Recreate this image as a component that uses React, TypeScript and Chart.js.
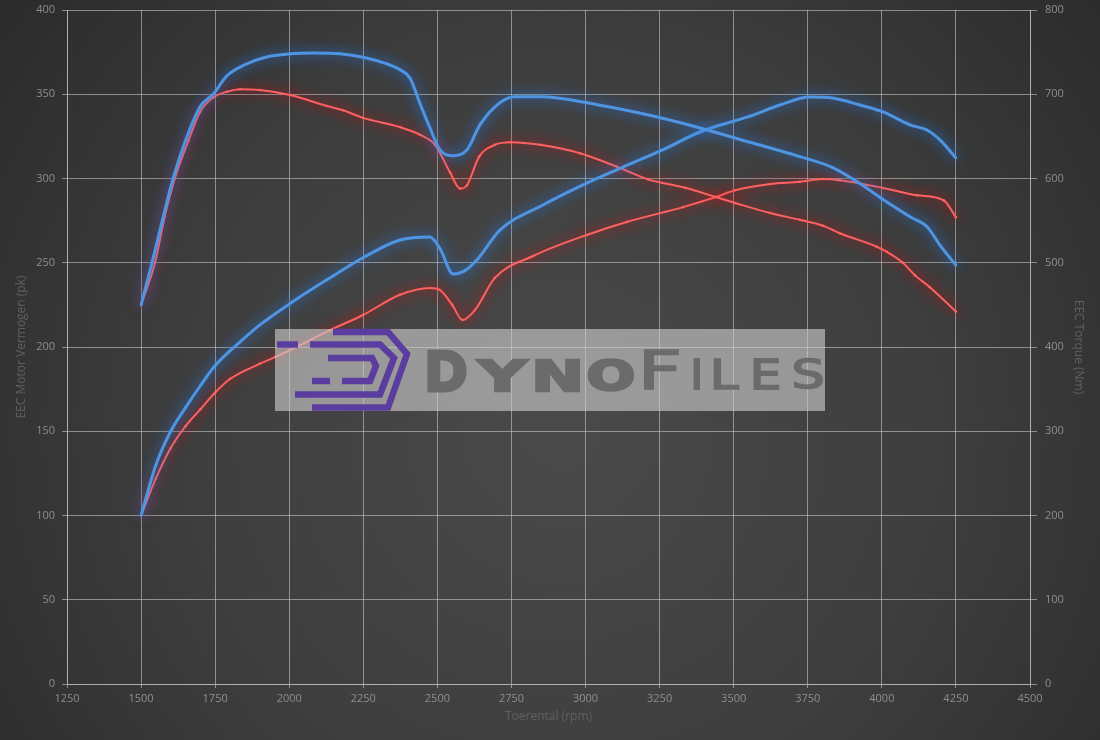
import React, { useEffect, useRef } from "react";
import { Chart, registerables } from "chart.js";

Chart.register(...registerables);

// ---- data ----
const tunedTorqueRpm = [1500, 1537, 1575, 1608, 1650, 1699, 1743, 1790, 1850, 1920, 2003, 2080, 2171, 2249, 2330, 2374, 2408, 2440, 2475, 2509, 2553, 2600, 2644, 2711, 2762, 2846, 3049, 3217, 3386, 3555, 3723, 3834, 3926, 4004, 4098, 4152, 4196, 4250];
const tunedTorqueNm = [450, 500, 555, 600, 645, 685, 700, 722, 735, 744, 748, 749, 748, 744, 736, 729, 719, 690, 660, 634, 627, 634, 664, 690, 697, 697, 687, 675, 660, 643, 626, 613, 594, 575, 554, 543, 521, 497];

const stockTorqueRpm = [1500, 1547, 1580, 1614, 1660, 1699, 1743, 1790, 1834, 1901, 2003, 2128, 2182, 2249, 2374, 2441, 2492, 2543, 2577, 2600, 2641, 2694, 2748, 2846, 2981, 3106, 3211, 3336, 3440, 3505, 3623, 3723, 3801, 3858, 3983, 4017, 4071, 4112, 4162, 4250];
const stockTorqueNm = [450, 500, 555, 600, 645, 679, 696, 703, 706, 705, 699, 686, 681, 672, 661, 652, 640, 607, 588, 592, 626, 640, 643, 640, 630, 614, 599, 589, 578, 571, 559, 551, 544, 535, 519, 513, 500, 485, 471, 442];

const tunedPowerRpm = [1500, 1550, 1600, 1650, 1700, 1750, 1834, 1900, 2013, 2128, 2249, 2374, 2475, 2510, 2553, 2590, 2633, 2711, 2856, 3004, 3159, 3260, 3386, 3555, 3656, 3757, 3834, 3926, 4004, 4095, 4152, 4196, 4250];
const tunedPowerPk = [100, 130, 150, 164, 177, 189, 203, 213, 227, 240, 253, 263.5, 265.3, 258, 243.3, 245, 251.6, 269.4, 284.3, 297.3, 309.2, 317, 327.6, 337, 343.6, 348.4, 347.8, 343.6, 339.5, 331.8, 328.8, 322.9, 312.2];

const stockPowerRpm = [1500, 1550, 1600, 1650, 1700, 1750, 1800, 1900, 1952, 2036, 2138, 2249, 2374, 2475, 2509, 2550, 2585, 2627, 2694, 2823, 3004, 3139, 3329, 3440, 3505, 3623, 3723, 3801, 3858, 4004, 4119, 4209, 4250];
const stockPowerPk = [100, 122, 140, 153, 163, 173, 181, 190, 194, 201, 210, 219, 231, 235, 233.8, 225, 216, 222, 241, 254, 266.5, 274.2, 283, 289, 293, 296.7, 298, 299.7, 299, 294.4, 290, 287, 277];

const xTitle = "Toerental (rpm)";
const yLeftTitle = "EEC Motor Vermogen (pk)";
const yRightTitle = "EEC Torque (Nm)";

const BLUE = "#4f95e2";
const BLUE_GLOW = "rgba(40,130,255,1)";
const RED = "#ff6262";
const RED_GLOW = "rgba(255,0,0,1)";

const toPoints = (xs: number[], ys: number[]) => xs.map((x, i) => ({ x, y: ys[i] }));

const backgroundPlugin = {
  id: "bg",
  beforeDraw(chart: any) {
    const { ctx, width, height } = chart;
    ctx.save();
    const g = ctx.createRadialGradient(560, 430, 0, 560, 430, 720);
    g.addColorStop(0, "#4a4a4a");
    g.addColorStop(0.55, "#3d3d3d");
    g.addColorStop(1, "#2a2a2a");
    ctx.fillStyle = g;
    ctx.fillRect(0, 0, width, height);
    ctx.restore();
  },
};

const glowPlugin = {
  id: "glow",
  beforeDatasetDraw(chart: any, args: any) {
    const ds = chart.data.datasets[args.index];
    const ctx = chart.ctx;
    ctx.save();
    ctx.shadowColor = ds.glowColor || "transparent";
    ctx.shadowBlur = 13;
    ctx.shadowOffsetX = 0;
    ctx.shadowOffsetY = 0;
  },
  afterDatasetDraw(chart: any) {
    chart.ctx.restore();
  },
};

function drawLetter(ctx: CanvasRenderingContext2D, ch: string, x0: number, x1: number, yTop: number, yBottom: number, weight: string, sw: number) {
  ctx.font = `${weight} 60px "DejaVu Sans"`;
  const m = ctx.measureText(ch);
  const inkW = m.actualBoundingBoxLeft + m.actualBoundingBoxRight;
  const inkH = m.actualBoundingBoxAscent + Math.max(0, m.actualBoundingBoxDescent);
  const sx = (x1 - x0 - sw) / inkW;
  const sy = (yBottom - yTop - sw) / inkH;
  ctx.save();
  ctx.translate(x0 + sw / 2, yBottom - sw / 2 - Math.max(0, m.actualBoundingBoxDescent) * sy);
  ctx.scale(sx, sy);
  ctx.textBaseline = "alphabetic";
  ctx.textAlign = "left";
  ctx.fillText(ch, m.actualBoundingBoxLeft, 0);
  if (sw > 0) {
    ctx.lineWidth = sw / ((sx + sy) / 2);
    ctx.lineJoin = "miter";
    ctx.strokeText(ch, m.actualBoundingBoxLeft, 0);
  }
  ctx.restore();
}

const logoPlugin = {
  id: "logo",
  afterDatasetsDraw(chart: any) {
    const ctx: CanvasRenderingContext2D = chart.ctx;
    ctx.save();
    ctx.fillStyle = "rgba(205,205,205,0.62)";
    ctx.fillRect(275, 329, 550, 82);

    ctx.strokeStyle = "#5b3c9f";
    ctx.lineWidth = 6.5;
    ctx.lineJoin = "miter";
    ctx.lineCap = "butt";
    const poly = (pts: number[][]) => {
      ctx.beginPath();
      ctx.moveTo(pts[0][0], pts[0][1]);
      for (let i = 1; i < pts.length; i++) ctx.lineTo(pts[i][0], pts[i][1]);
      ctx.stroke();
    };
    poly([[333, 332], [388, 332], [407, 354], [388, 407.5], [312, 407.5]]);
    poly([[310, 344.5], [380, 344.5], [394, 358], [380, 394.5], [295, 394.5]]);
    poly([[277, 344.5], [298, 344.5]]);
    poly([[328, 358], [372, 358], [376, 366], [370, 381], [342, 381]]);
    poly([[312, 381], [330, 381]]);

    ctx.fillStyle = "#6b6b6b";
    ctx.strokeStyle = "#6b6b6b";
    drawLetter(ctx, "D", 427, 467, 348, 392, "bold", 3);
    drawLetter(ctx, "Y", 475, 530, 357, 392, "bold", 3);
    drawLetter(ctx, "N", 535, 580, 357, 392, "bold", 3);
    drawLetter(ctx, "O", 587, 634, 357, 392, "bold", 3);
    drawLetter(ctx, "F", 643, 680, 348, 390, "normal", 2);
    drawLetter(ctx, "I", 693, 700, 358, 390, "normal", 2);
    drawLetter(ctx, "L", 713, 740, 358, 390, "normal", 2);
    drawLetter(ctx, "E", 753, 780, 358, 390, "normal", 2);
    drawLetter(ctx, "S", 793, 823, 358, 390, "normal", 2);
    ctx.restore();
  },
};

export default function App() {
  const ref = useRef<HTMLCanvasElement | null>(null);

  useEffect(() => {
    document.body.style.margin = "0";
    const canvas = ref.current!;
    const gridColor = "rgba(200,200,200,0.6)";
    const tickColor = "#8e8e8e";
    const titleColor = "#606060";
    const tickFont = { family: "'Open Sans', 'DejaVu Sans', sans-serif", size: 11 };
    const titleFont = { family: "'Open Sans', 'DejaVu Sans', sans-serif", size: 12 };
    const plain = (v: any) => String(v);

    const lineDs = (label: string, xs: number[], ys: number[], axis: string, color: string, glow: string, width: number) => ({
      label,
      data: toPoints(xs, ys),
      yAxisID: axis,
      borderColor: color,
      borderWidth: width,
      pointRadius: 1.3,
      pointBorderWidth: 0,
      pointBackgroundColor: color,
      cubicInterpolationMode: "monotone",
      fill: false,
      glowColor: glow,
    });

    const fitY = (w: number) => (s: any) => {
      s.width = w;
      s.paddingTop = 0;
      s.paddingBottom = 0;
    };

    const chart = new Chart(canvas, {
      type: "line",
      data: {
        datasets: [
          lineDs("Tuned torque", tunedTorqueRpm, tunedTorqueNm, "y1", BLUE, BLUE_GLOW, 3),
          lineDs("Tuned power", tunedPowerRpm, tunedPowerPk, "y", BLUE, BLUE_GLOW, 3),
          lineDs("Stock torque", stockTorqueRpm, stockTorqueNm, "y1", RED, RED_GLOW, 2),
          lineDs("Stock power", stockPowerRpm, stockPowerPk, "y", RED, RED_GLOW, 2),
        ] as any,
      },
      options: {
        responsive: false,
        animation: false,
        layout: { padding: { top: 10, left: 0, right: 0, bottom: 0 } },
        plugins: { legend: { display: false }, tooltip: { enabled: false } },
        scales: {
          x: {
            type: "linear",
            min: 1250,
            max: 4500,
            ticks: { stepSize: 250, color: tickColor, font: tickFont, padding: 4, maxRotation: 0, autoSkip: false, callback: plain },
            grid: { color: gridColor, tickLength: 4 },
            border: { color: gridColor },
            title: { display: true, text: xTitle, color: titleColor, font: titleFont, padding: { top: 4, bottom: 16 } },
            afterFit: (s: any) => { s.height = 56; s.paddingLeft = 0; s.paddingRight = 0; },
          },
          y: {
            type: "linear",
            position: "left",
            min: 0,
            max: 400,
            ticks: { stepSize: 50, color: tickColor, font: tickFont, padding: 7, callback: plain },
            grid: { color: gridColor, tickLength: 5 },
            border: { color: gridColor },
            title: { display: true, text: yLeftTitle, color: titleColor, font: titleFont, padding: { top: 14, bottom: 4 } },
            afterFit: fitY(67),
          },
          y1: {
            type: "linear",
            position: "right",
            min: 0,
            max: 800,
            ticks: { stepSize: 100, color: tickColor, font: tickFont, padding: 8, callback: plain },
            grid: { color: gridColor, tickLength: 7, drawOnChartArea: false },
            border: { color: gridColor },
            title: { display: true, text: yRightTitle, color: titleColor, font: titleFont, padding: { top: 14, bottom: 4 } },
            afterFit: fitY(70),
          },
        },
      } as any,
      plugins: [backgroundPlugin, glowPlugin, logoPlugin],
    });
    return () => chart.destroy();
  }, []);

  return (
    <div style={{ position: "fixed", left: 0, top: 0, width: 1100, height: 740 }}>
      <canvas ref={ref} width={1100} height={740} style={{ display: "block", width: 1100, height: 740 }} />
    </div>
  );
}
